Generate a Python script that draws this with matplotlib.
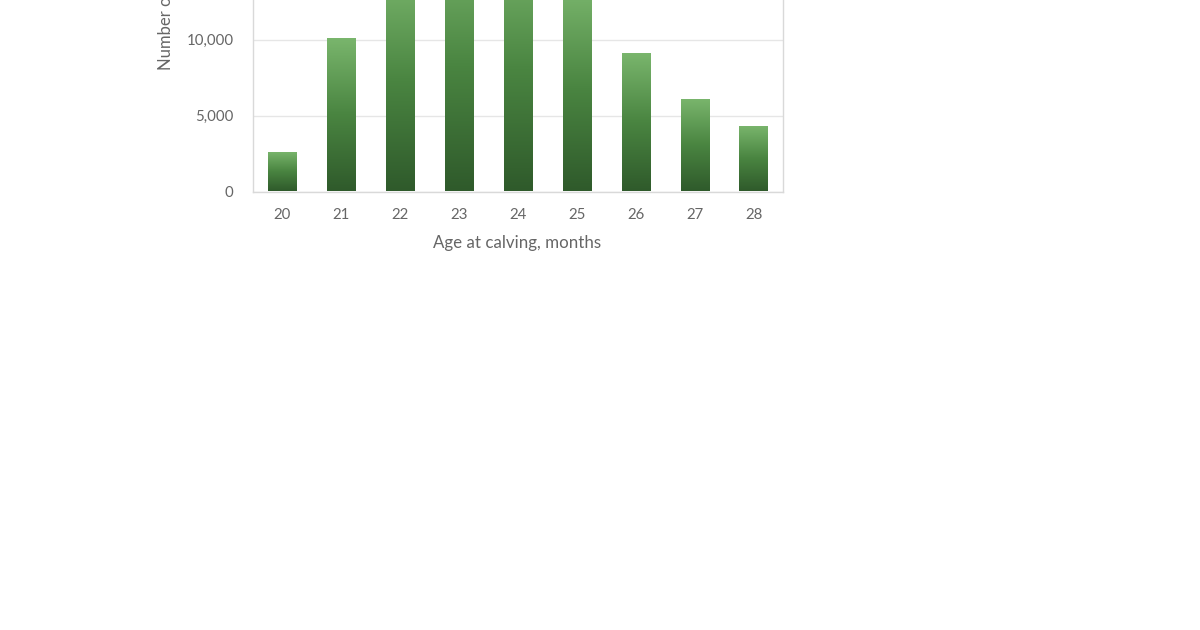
import matplotlib
matplotlib.use("Agg")
import matplotlib.pyplot as plt
import numpy as np
from matplotlib.colors import LinearSegmentedColormap
from matplotlib.ticker import FuncFormatter

ages = ["20", "21", "22", "23", "24", "25", "26", "27", "28"]
counts = [2600, 10100, 14500, 16500, 16000, 13500, 9100, 6100, 4300]
y_ticks = [0, 5000, 10000]

plt.rcParams['font.family'] = ['Lato', 'DejaVu Sans']
text_col = "#666666"
grid_col = "#d9d9d9"

fig = plt.figure(figsize=(12, 6.3), dpi=100)
W, H = 1200, 630
left, right = 253 / W, 783 / W
bottom_px = 191.5
px_per_unit = 76 / 5000
ymax = 20000
ax_h_px = ymax * px_per_unit
ax = fig.add_axes([left, (H - bottom_px) / H, right - left, ax_h_px / H])

x = np.arange(len(ages))
bars = ax.bar(x, counts, width=0.48, color="none", edgecolor="none", zorder=2)
cmap = LinearSegmentedColormap.from_list("g", ["#2f5a2b", "#4a8541", "#7ab66d"])
grad = np.linspace(0, 1, 256).reshape(-1, 1)
for b in bars:
    x0, w, h = b.get_x(), b.get_width(), b.get_height()
    im = ax.imshow(grad, cmap=cmap, origin="lower", aspect="auto",
                   extent=[x0, x0 + w, 0, h], zorder=2)
    im.set_clip_path(b)

ax.set_xlim(-0.5, len(ages) - 0.5)
ax.set_ylim(0, ymax)
ax.set_xticks(x)
ax.set_xticklabels(ages)
ax.set_yticks(y_ticks)
ax.yaxis.set_major_formatter(FuncFormatter(lambda v, p: f"{int(v):,}"))
ax.grid(axis="y", color="#e6e6e6", linewidth=1, zorder=0)
ax.set_axisbelow(True)
for s in ax.spines.values():
    s.set_color(grid_col)
    s.set_linewidth(1)
ax.tick_params(axis="both", length=0, colors=text_col, labelsize=10.8)
ax.tick_params(axis="x", pad=12)
ax.tick_params(axis="y", pad=14)

fig.text(517 / W, 1 - 243 / H, "Age at calving, months", ha="center", va="center",
         fontsize=12.2, color=text_col)
fig.text(166 / W, 1 - 70 / H, "Number of heifers", ha="center", va="bottom",
         rotation=90, fontsize=12, color=text_col)

fig.savefig("out.png", dpi=100)
